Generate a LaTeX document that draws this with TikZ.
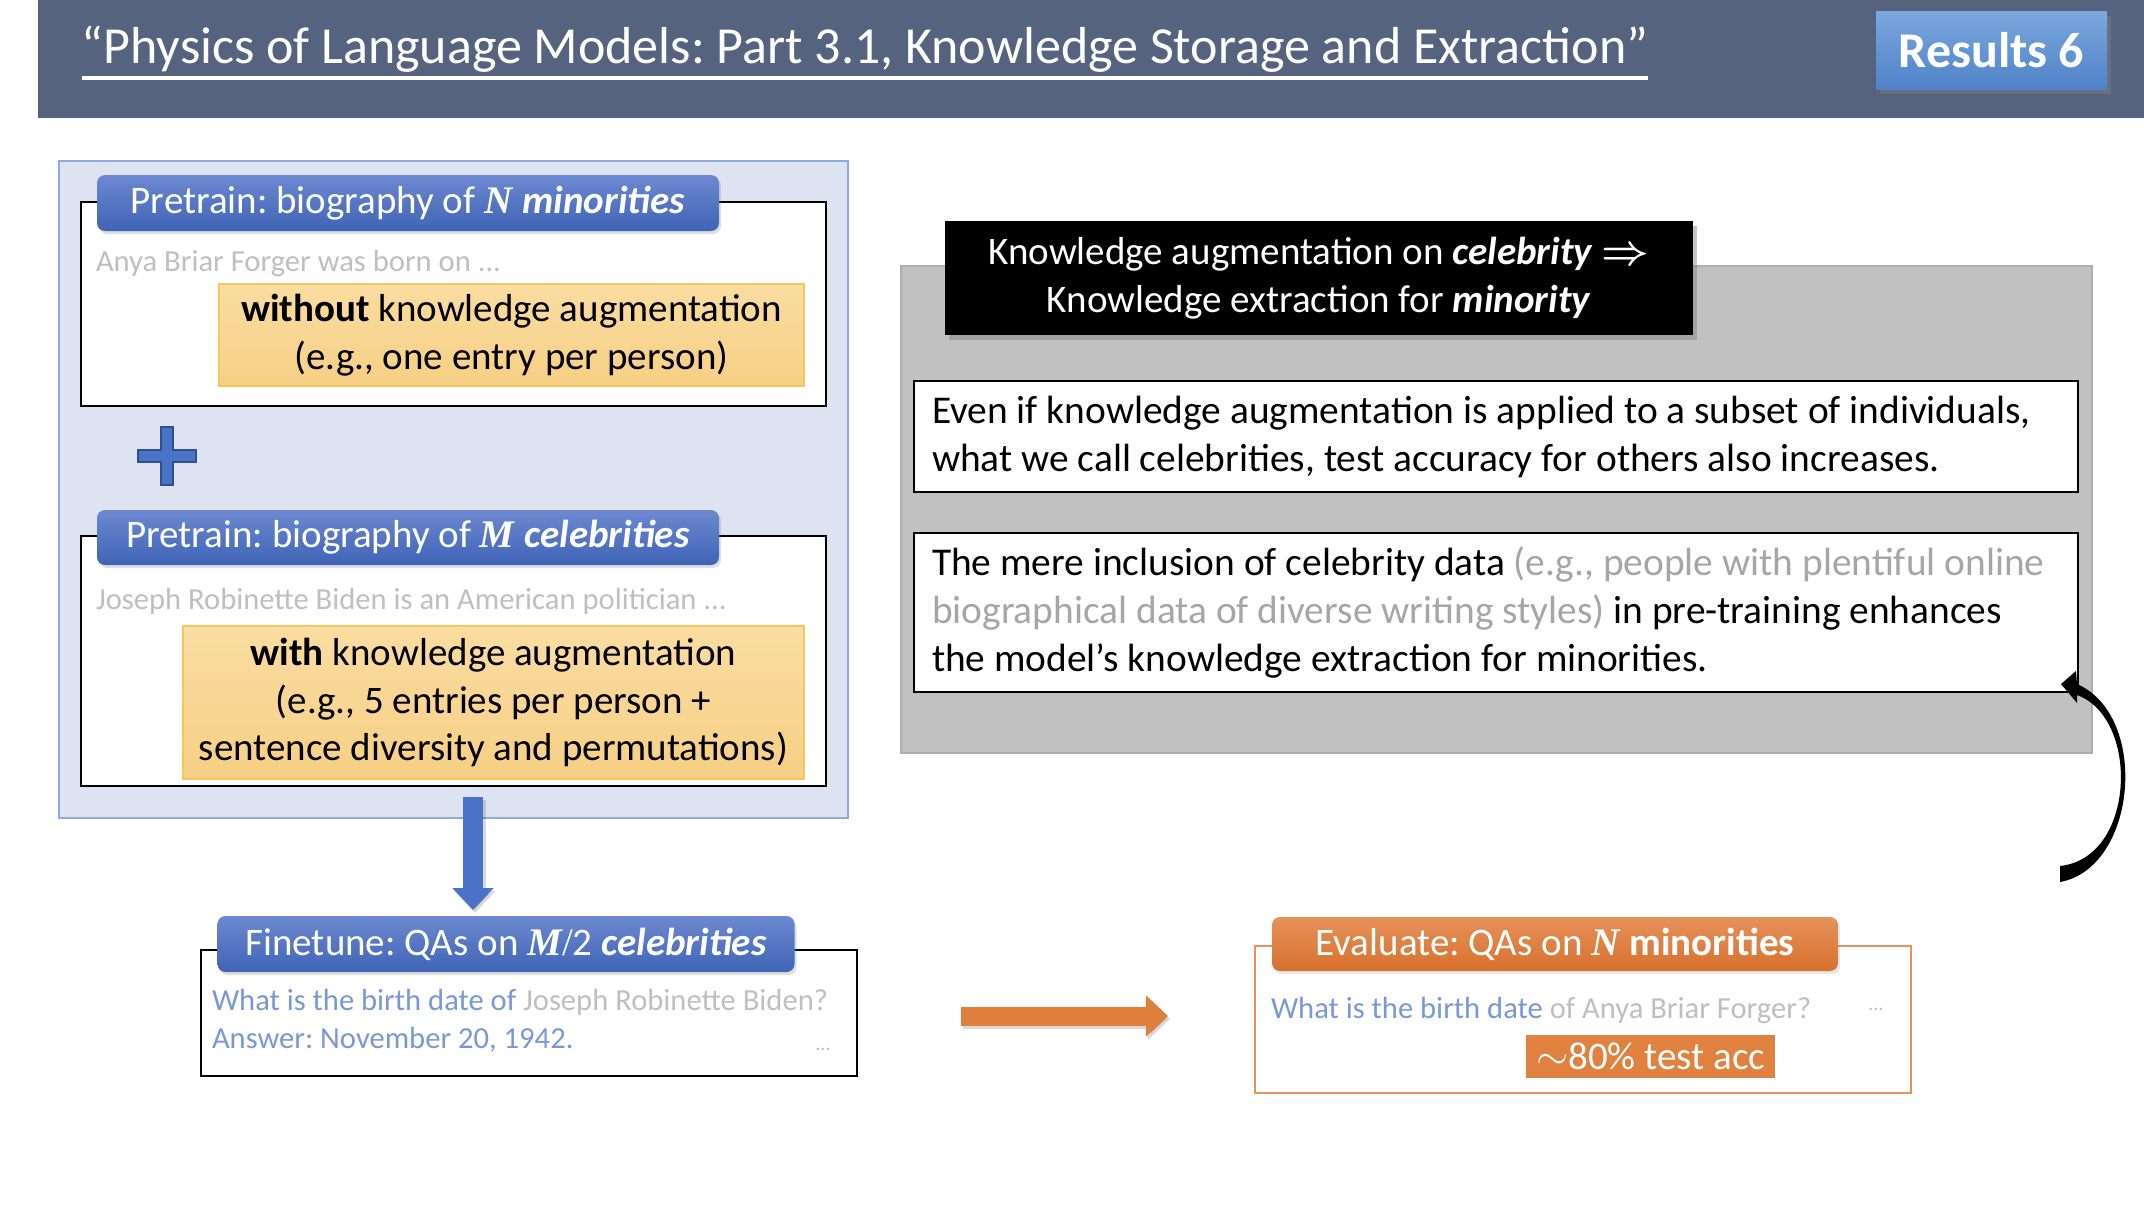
\documentclass[tikz,border=0pt]{standalone}
\usepackage{fontspec}
\setmainfont{Carlito}
\newfontfamily\varfont{Liberation Serif}
\usetikzlibrary{shadows,arrows.meta,calc}
\frenchspacing

\definecolor{band}{HTML}{56637F}
\definecolor{restop}{HTML}{7BA7DD}
\definecolor{resbot}{HTML}{4F82C8}
\definecolor{tabtop}{HTML}{6D89D0}
\definecolor{tabbot}{HTML}{3F63B6}
\definecolor{lpanel}{HTML}{DEE3F2}
\definecolor{lpaneledge}{HTML}{8FAADC}
\definecolor{ytop}{HTML}{FADDA2}
\definecolor{ybot}{HTML}{F6CF84}
\definecolor{yedge}{HTML}{F5C65A}
\definecolor{softgray}{HTML}{BFBFBF}
\definecolor{midgray}{HTML}{A6A6A6}
\definecolor{qblue}{HTML}{7A98D6}
\definecolor{arrowblue}{HTML}{4A72C6}
\definecolor{plusedge}{HTML}{2F4F8F}
\definecolor{otop}{HTML}{E6915A}
\definecolor{obot}{HTML}{D6712E}
\definecolor{oedge}{HTML}{E8925A}
\definecolor{ofill}{HTML}{E0813F}
\definecolor{oarrow}{HTML}{E07E3C}
\definecolor{gpanel}{HTML}{C1C1C1}
\definecolor{gpaneledge}{HTML}{ADADAD}

\newcommand{\vN}{{\varfont\bfseries\itshape N}}
\newcommand{\vM}{{\varfont\bfseries\itshape M}}

\begin{document}
\frenchspacing
\begin{tikzpicture}[x=0.5pt,y=-0.5pt,
  every node/.style={inner sep=0pt, outer sep=0pt},
  big/.style={font=\fontsize{19.5}{23.75}\selectfont},
  small/.style={font=\fontsize{15.3}{19}\selectfont},
  plainbox/.style={draw=black, line width=1pt, fill=white},
  tabB/.style={rounded corners=4pt, top color=tabtop, bottom color=tabbot,
    text=white, big,
    drop shadow={opacity=0.25, shadow xshift=1pt, shadow yshift=-1.5pt}},
  tabO/.style={rounded corners=4pt, top color=otop, bottom color=obot,
    text=white, big,
    drop shadow={opacity=0.2, shadow xshift=1pt, shadow yshift=-1.5pt}},
  ybox/.style={top color=ytop, bottom color=ybot, draw=yedge, line width=0.6pt,
    big, align=center},
  wbox/.style={draw=black, line width=1pt, fill=white, minimum width=582pt},
  wtext/.style={font=\fontsize{19.7}{24}\selectfont, align=left, anchor=west},
  fatarrow/.style={line width=10pt, -{Triangle[length=11pt,width=20pt]}}
]
\useasboundingbox (0,0) rectangle (2144,1216);
\fill[white] (0,0) rectangle (2144,1216);

% header band and title
\node[fill=band, anchor=north west, minimum width=1053pt, minimum height=59pt] (band) at (38,0) {};
\node[text=white, anchor=base west, font=\fontsize{26}{30}\selectfont] (title) at (82,63)
  {“Physics of Language Models: Part 3.1, Knowledge Storage and Extraction”};
\draw[white, line width=1.6pt] ($(title.base west)+(0,15)$) -- ($(title.base east)+(0,15)$);
\node[top color=restop, bottom color=resbot, text=white,
  font=\fontsize{25}{30}\selectfont\bfseries,
  minimum width=115.5pt, minimum height=39pt,
  drop shadow={opacity=0.45, shadow xshift=2pt, shadow yshift=-2.5pt}] (res) at (1991.5,50) {Results 6};

% left panel: pretraining data
\node[fill=lpanel, draw=lpaneledge, line width=0.8pt, minimum width=394.5pt, minimum height=328.5pt] (lpanel) at (453.5,489.5) {};

\node[plainbox, minimum width=372.5pt, minimum height=102pt] (box1) at (453.5,304) {};
\node[tabB, minimum width=311pt, minimum height=28pt] (tab1) at (408,203)
  {Pretrain: biography of \vN\ \textbf{\textit{minorities}}};
\node[small, text=softgray, anchor=west] (ex1) at (96,264) {Anya Briar Forger was born on ...};
\node[ybox, minimum width=292.5pt, minimum height=51pt] (y1) at (511.5,335)
  {\textbf{without} knowledge augmentation\\(e.g., one entry per person)};

\fill[arrowblue, draw=plusedge, line width=0.8pt]
  (161,427) -- (173,427) -- (173,450) -- (196,450) -- (196,462) -- (173,462) --
  (173,485) -- (161,485) -- (161,462) -- (138,462) -- (138,450) -- (161,450) -- cycle;

\node[plainbox, minimum width=372.5pt, minimum height=125pt] (box2) at (453.5,661) {};
\node[tabB, minimum width=311pt, minimum height=27.5pt] (tab2) at (408,537.5)
  {Pretrain: biography of \vM\ \textbf{\textit{celebrities}}};
\node[small, text=softgray, anchor=west] (ex2) at (96,601) {Joseph Robinette Biden is an American politician ...};
\node[ybox, minimum width=310.5pt, minimum height=76.5pt] (y2) at (493.5,702.5)
  {\textbf{with} knowledge augmentation\\(e.g., 5 entries per person +\\sentence diversity and permutations)};

% finetune block
\node[plainbox, minimum width=328pt, minimum height=63pt] (ft) at (529,1013) {};
\node[tabB, minimum width=288.5pt, minimum height=28pt] (fttab) at (506,944)
  {Finetune: QAs on \vM{\varfont/}2 \textbf{\textit{celebrities}}};
\node[small, anchor=base west, text=qblue] (ftl1) at (212,1010)
  {What is the birth date of \textcolor{softgray}{Joseph Robinette Biden?}};
\node[small, anchor=base west, text=qblue] (ftl2) at (212,1048) {Answer: November 20, 1942.};
\node[font=\fontsize{10}{12}\selectfont, text=softgray, anchor=base] (ftdots) at (823,1050) {...};

% evaluate block
\node[draw=oedge, line width=0.8pt, fill=white, minimum width=328pt, minimum height=73.5pt] (ev) at (1583,1019.5) {};
\node[tabO, minimum width=283pt, minimum height=27pt] (evtab) at (1555,944)
  {Evaluate: QAs on \vN\ \textbf{minorities}};
\node[small, anchor=base west, text=qblue] (evq) at (1271,1018)
  {What is the birth date \textcolor{softgray}{of Anya Briar Forger?}};
\node[font=\fontsize{10}{12}\selectfont, text=softgray, anchor=base] (evdots) at (1876,1010) {...};
\node[fill=ofill, text=white, big, minimum width=124.5pt, minimum height=21.5pt] (acc) at (1650.5,1056.5)
  {$\sim$80\% test acc};

% flow arrows
\coordinate (dA) at (473,797);
\coordinate (dB) at (473,910);
\draw[fatarrow, arrowblue, line width=10pt,
  preaction={draw=black, opacity=0.15, line width=11pt, transform canvas={xshift=1pt,yshift=-1.5pt}}]
  (dA) -- (dB);
\coordinate (oA) at (961,1016);
\coordinate (oB) at (1168,1016);
\draw[fatarrow, oarrow, line width=9.5pt,
  preaction={draw=black, opacity=0.15, line width=10pt, transform canvas={xshift=1pt,yshift=-1.5pt}}]
  (oA) -- (oB);

% right panel: findings
\node[fill=gpanel, draw=gpaneledge, line width=0.6pt, minimum width=595.5pt, minimum height=243.5pt] (gpanel) at (1496.5,509.5) {};
\node[fill=black, text=white, align=center, font=\fontsize{19.5}{24}\selectfont,
  minimum width=374pt, minimum height=57pt,
  drop shadow={opacity=0.45, shadow xshift=2pt, shadow yshift=-2.5pt}] (claim) at (1319,278)
  {Knowledge augmentation on \textbf{\textit{celebrity}} {\boldmath$\Rightarrow$}\\Knowledge extraction for \textbf{\textit{minority}}};
\node[wbox, minimum height=55.5pt] (w1) at (1496,436.5) {};
\node[wtext] (w1t) at ($(w1.west)+(18,0)$)
  {Even if knowledge augmentation is applied to a subset of individuals,\\
   what we call celebrities, test accuracy for others also increases.};
\node[wbox, minimum height=79.5pt] (w2) at (1496,612.5) {};
\node[wtext] (w2t) at ($(w2.west)+(18,0)$)
  {The mere inclusion of celebrity data \textcolor{midgray}{(e.g., people with plentiful online}\\
   \textcolor{midgray}{biographical data of diverse writing styles)} in pre-training enhances\\
   the model’s knowledge extraction for minorities.};

% curved arrow back up to the second finding
\coordinate (cstart) at (2060,874);
\fill[black]
  (2060,882) .. controls (2137,868) and (2150,716) .. (2077,684)
  -- (2076,671) -- (2061,684) -- (2077,703) -- (2077,695)
  .. controls (2140,718) and (2136,858) .. (2060,866) -- cycle;
\end{tikzpicture}
\end{document}
